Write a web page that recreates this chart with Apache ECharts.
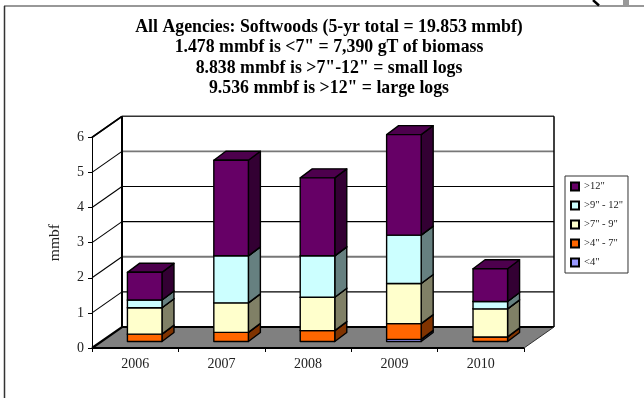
<!DOCTYPE html>
<html>
<head>
<meta charset="utf-8">
<style>html,body{margin:0;padding:0;background:#fff}#chart{width:644px;height:398px}</style>
<script src="https://cdn.jsdelivr.net/npm/echarts@6/dist/echarts.min.js"></script>
</head>
<body>
<div id="chart"></div>
<script>
// Softwood volume by year and diameter class, in mmbf
const years = ['2006', '2007', '2008', '2009', '2010'];
const under4 = [0, 0, 0, 0.06, 0];
const from4to7 = [0.21, 0.26, 0.31, 0.45, 0.13];
const from7to9 = [0.75, 0.84, 0.95, 1.14, 0.80];
const from9to12 = [0.22, 1.34, 1.18, 1.38, 0.21];
const over12 = [0.79, 2.72, 2.22, 2.86, 0.93];
const yTicks = [0, 1, 2, 3, 4, 5, 6];
const titleLines = [
  'All Agencies: Softwoods (5-yr total = 19.853 mmbf)',
  '1.478 mmbf is <7" = 7,390 gT of biomass',
  '8.838 mmbf is >7"-12" = small logs',
  '9.536 mmbf is >12" = large logs'
];

const classes = [
  { name: '<4"', values: under4, front: '#9999ff', side: '#4d4d80', top: '#7373bf' },
  { name: '>4" - 7"', values: from4to7, front: '#ff6600', side: '#803300', top: '#bf4d00' },
  { name: '>7" - 9"', values: from7to9, front: '#ffffcc', side: '#808066', top: '#bfbf99' },
  { name: '>9" - 12"', values: from9to12, front: '#ccffff', side: '#668080', top: '#99bfbf' },
  { name: '>12"', values: over12, front: '#660066', side: '#330033', top: '#4d004d' }
];

// Oblique projection: depth of the plot box and of the bars within it
const WALL = [30, -21];
const BAR_SHIFT = [9.5, -6.5];
const BAR_DEPTH = [12, -9];
const EDGE = { stroke: '#000', lineWidth: 1.4, lineJoin: 'round' };
const SOFT_BACK_LINES = [2, 5];

const poly = (points, fill, extra) => ({
  type: 'polygon',
  shape: { points },
  style: Object.assign({ fill }, EDGE, extra || {})
});
const line = (points, lineWidth, stroke) => ({
  type: 'polyline',
  shape: { points },
  style: { fill: null, stroke: stroke || '#000', lineWidth }
});
const move = (p, d) => [p[0] + d[0], p[1] + d[1]];

// Grey floor of the plot box
function renderFloor(params, api) {
  const a = api.coord([0, 0]);
  const halfBand = api.size([1, 0])[0] / 2;
  const left = [a[0] - halfBand, a[1]];
  const right = [api.coord([years.length - 1, 0])[0] + halfBand, a[1]];
  return {
    type: 'group',
    children: [
      poly([left, right, move(right, WALL), move(left, WALL)], '#808080', { stroke: 'none', lineWidth: 0 }),
      line([left, move(left, WALL), move(right, WALL)], 2.2),
      line([left, right], 2.2)
    ]
  };
}

// One gridline per tick: across the side wall, then along the back wall
function renderGrid(params, api) {
  const v = api.value(0);
  const halfBand = api.size([1, 0])[0] / 2;
  const a = api.coord([0, v]);
  const left = [a[0] - halfBand, a[1]];
  const right = [api.coord([years.length - 1, v])[0] + halfBand, a[1]];
  if (v === 0) return { type: 'group', children: [] };
  const soft = SOFT_BACK_LINES.includes(v);
  return {
    type: 'group',
    children: [
      line([left, move(left, WALL)], v === 6 ? 1.5 : 1.1),
      line([move(left, WALL), move(right, WALL)],
        soft ? 1.8 : (v === 6 ? 1.5 : 1.1),
        soft ? '#777' : (v === 6 ? '#333' : '#000'))
    ]
  };
}

// Vertical edges of the plot box
function renderEdges(params, api) {
  const halfBand = api.size([1, 0])[0] / 2;
  const x0 = api.coord([0, 0])[0] - halfBand;
  const x1 = api.coord([years.length - 1, 0])[0] + halfBand;
  const y0 = api.coord([0, 0])[1];
  const y6 = api.coord([0, 6])[1];
  return {
    type: 'group',
    children: [
      line([move([x0, y0], WALL), move([x0, y6], WALL)], 2),
      line([[x0, y6], move([x0, y6], WALL)], 1.6),
      line([move([x1, y0], WALL), move([x1, y6], WALL)], 1.5),
      line([move([x1, y0], WALL), [x1, y0]], 1, '#333')
    ]
  };
}

// One stacked segment drawn as a cuboid
function segmentRenderer(cls) {
  return function (params, api) {
    const cat = api.value(0);
    const base = api.value(1);
    const top = api.value(2);
    if (top <= base) return { type: 'group', children: [] };
    const w = api.size([1, 0])[0] * 0.4;
    const p0 = move(api.coord([cat, base]), BAR_SHIFT);
    const p1 = move(api.coord([cat, top]), BAR_SHIFT);
    const bl = [p0[0] - w / 2, p0[1]];
    const br = [p0[0] + w / 2, p0[1]];
    const tl = [p1[0] - w / 2, p1[1]];
    const tr = [p1[0] + w / 2, p1[1]];
    return {
      type: 'group',
      children: [
        poly([br, move(br, BAR_DEPTH), move(tr, BAR_DEPTH), tr], cls.side),
        poly([tl, tr, move(tr, BAR_DEPTH), move(tl, BAR_DEPTH)], cls.top),
        poly([bl, br, tr, tl], cls.front)
      ]
    };
  };
}

const running = years.map(() => 0);
const barSeries = classes.map((cls) => {
  const data = cls.values.map((v, i) => {
    const row = [i, running[i], running[i] + v];
    running[i] += v;
    return row;
  });
  return {
    type: 'custom',
    name: cls.name,
    renderItem: segmentRenderer(cls),
    data,
    encode: { x: 0, y: 2 },
    clip: false,
    silent: true,
    z: 5,
    itemStyle: { color: cls.front, borderColor: '#000', borderWidth: 1.4 }
  };
});

const chart = echarts.init(document.getElementById('chart'), null, { renderer: 'canvas' });
chart.setOption({
  animation: false,
  backgroundColor: '#fff',
  textStyle: { fontFamily: '"Liberation Serif", serif' },
  title: {
    text: titleLines.join('\n'),
    left: 324,
    top: 12,
    textAlign: 'center',
    textStyle: {
      fontFamily: '"Liberation Serif", serif',
      fontSize: 17.8,
      fontWeight: 'bold',
      color: '#000',
      lineHeight: 20.5
    }
  },
  grid: { left: 92, top: 137.3, width: 432, height: 210.7 },
  xAxis: {
    type: 'category',
    data: years,
    boundaryGap: true,
    axisLine: { show: false },
    axisTick: { show: true, length: 4, lineStyle: { color: '#000', width: 1 } },
    axisLabel: { color: '#222', fontSize: 14, margin: 9, fontFamily: '"Liberation Serif", serif' }
  },
  yAxis: {
    type: 'value',
    min: 0,
    max: 6,
    interval: 1,
    name: 'mmbf',
    nameLocation: 'middle',
    nameGap: 29,
    nameTextStyle: { color: '#222', fontSize: 15.5, fontFamily: '"Liberation Serif", serif' },
    splitLine: { show: false },
    axisLine: { show: true, lineStyle: { color: '#000', width: 1 } },
    axisTick: { show: true, length: 4, lineStyle: { color: '#000', width: 1 } },
    axisLabel: { color: '#222', fontSize: 14, margin: 8, fontFamily: '"Liberation Serif", serif' }
  },
  legend: {
    orient: 'vertical',
    left: 565,
    top: 176,
    padding: [5, 5, 5, 5],
    itemWidth: 8,
    itemHeight: 8,
    itemGap: 8,
    icon: 'rect',
    borderColor: '#333',
    borderWidth: 1,
    backgroundColor: '#fff',
    data: classes.map((c) => c.name).reverse(),
    selectedMode: false,
    textStyle: { color: '#222', fontSize: 10.5, fontFamily: '"Liberation Serif", serif' }
  },
  graphic: [
    { type: 'line', shape: { x1: 4.5, y1: 6, x2: 4.5, y2: 398 }, style: { stroke: '#333', lineWidth: 1.5 } },
    { type: 'line', shape: { x1: 4, y1: 6, x2: 644, y2: 6 }, style: { stroke: '#333', lineWidth: 1.2 } },
    { type: 'line', shape: { x1: 593, y1: 0, x2: 599, y2: 5.5 }, style: { stroke: '#000', lineWidth: 2.4 } },
    { type: 'rect', shape: { x: 623, y: 0, width: 6, height: 5.5 }, style: { fill: '#999' } }
  ],
  series: [
    { type: 'custom', renderItem: renderGrid, data: yTicks.map((t) => [t]), encode: { y: 0 }, clip: false, silent: true, z: 1 },
    { type: 'custom', renderItem: renderFloor, data: [[0]], encode: { y: 0 }, clip: false, silent: true, z: 2 },
    { type: 'custom', renderItem: renderEdges, data: [[0]], encode: { y: 0 }, clip: false, silent: true, z: 3 }
  ].concat(barSeries)
});
</script>
</body>
</html>
